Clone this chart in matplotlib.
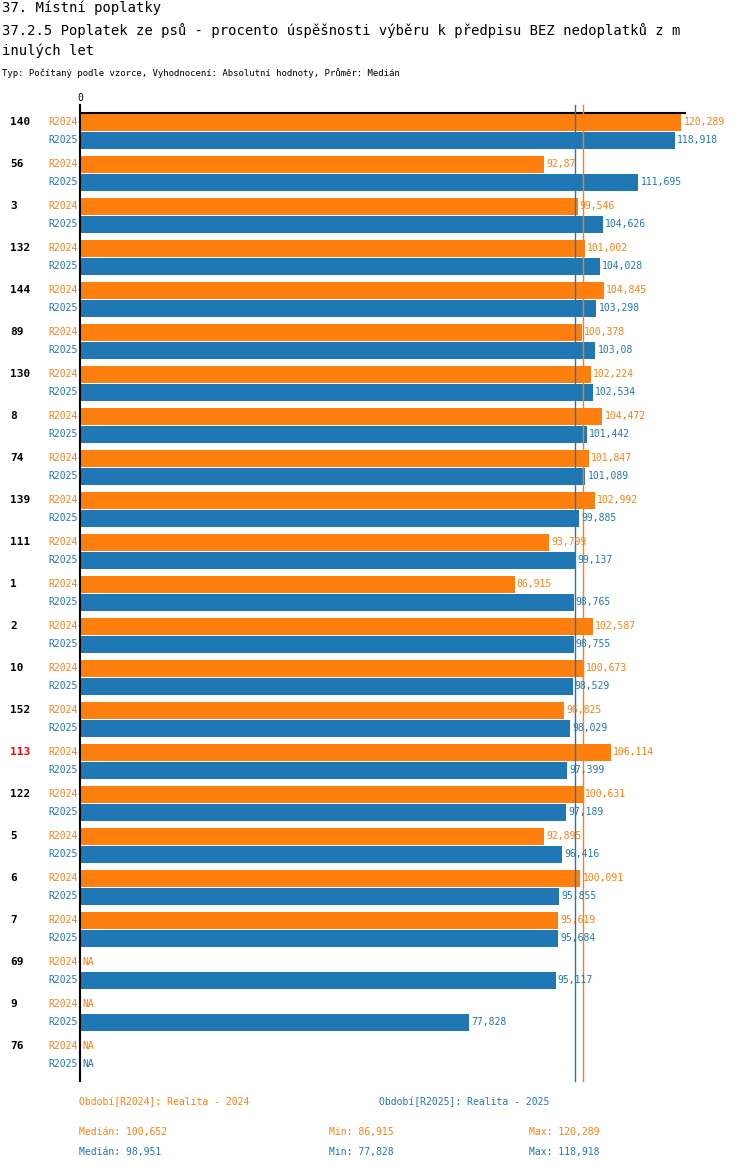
import numpy as np
import matplotlib.pyplot as plt

plt.rcParams['font.family'] = ['DejaVu Sans Mono']

cats = ['140', '56', '3', '132', '144', '89', '130', '8', '74', '139', '111', '1', '2',
        '10', '152', '113', '122', '5', '6', '7', '69', '9', '76']
r2024 = [120.289, 92.87, 99.546, 101.002, 104.845, 100.378, 102.224, 104.472, 101.847,
         102.992, 93.799, 86.915, 102.587, 100.673, 96.825, 106.114, 100.631, 92.895,
         100.091, 95.619, None, None, None]
r2025 = [118.918, 111.695, 104.626, 104.028, 103.298, 103.08, 102.534, 101.442, 101.089,
         99.885, 99.137, 98.765, 98.755, 98.529, 98.029, 97.399, 97.189, 96.416, 95.855,
         95.684, 95.117, 77.828, None]
highlight = '113'
med24, min24, max24 = 100.652, 86.915, 120.289
med25, min25, max25 = 98.951, 77.828, 118.918

ORANGE = '#ff7f0e'
BLUE = '#1f77b4'
W, H = 750, 1170

def fmt(v):
    return ('%g' % v).replace('.', ',')

fig = plt.figure(figsize=(W / 100, H / 100), dpi=100)
ax = fig.add_axes([80 / W, 1 - 1081 / H, 605 / W, 968 / H])
ax.set_xlim(0, 121)
ax.set_ylim(968, 0)
ax.axis('off')

pitch = 42
for i, c in enumerate(cats):
    y24 = i * pitch + 9
    y25 = i * pitch + 27
    ax.text(-70 / 5, y24, c, ha='left', va='center', fontsize=8, fontweight='bold',
            color='red' if c == highlight else 'black')
    for y, v, col, lab in ((y24, r2024[i], ORANGE, 'R2024'), (y25, r2025[i], BLUE, 'R2025')):
        ax.text(-0.5, y, lab, ha='right', va='center', fontsize=7, color=col)
        if v is None:
            ax.text(0.5, y, 'NA', ha='left', va='center', fontsize=7, color=col)
        else:
            ax.barh(y, v, height=17, color=col)
            ax.text(v + 0.4, y, fmt(v), ha='left', va='center', fontsize=7, color=col)

ax.plot([0, 121], [0, 0], color='black', lw=1.5, clip_on=False)
ax.plot([0, 0], [-8, 968], color='black', lw=1.5, clip_on=False)
ax.text(0, -10, '0', ha='center', va='bottom', fontsize=7)
ax.plot([med25, med25], [-8, 968], color=BLUE, lw=1, clip_on=False)
ax.plot([med24, med24], [-8, 968], color=ORANGE, lw=1, clip_on=False)

fig.text(2 / W, 1 - 8 / H, '37. Místní poplatky', fontsize=10, va='center')
fig.text(2 / W, 1 - 31 / H, '37.2.5 Poplatek ze psů - procento úspěšnosti výběru k předpisu BEZ nedoplatků z m',
         fontsize=10, va='center')
fig.text(2 / W, 1 - 51 / H, 'inulých let', fontsize=10, va='center')
fig.text(2 / W, 1 - 73 / H, 'Typ: Počítaný podle vzorce, Vyhodnocení: Absolutní hodnoty, Průměr: Medián',
         fontsize=6.5, va='center')

fig.text(79 / W, 1 - 1102 / H, 'Období[R2024]: Realita - 2024', fontsize=7, color=ORANGE, va='center')
fig.text(379 / W, 1 - 1102 / H, 'Období[R2025]: Realita - 2025', fontsize=7, color=BLUE, va='center')
for y, col, md, mn, mx in ((1132, ORANGE, med24, min24, max24), (1152, BLUE, med25, min25, max25)):
    fig.text(79 / W, 1 - y / H, 'Medián: ' + fmt(md), fontsize=7, color=col, va='center')
    fig.text(329 / W, 1 - y / H, 'Min: ' + fmt(mn), fontsize=7, color=col, va='center')
    fig.text(529 / W, 1 - y / H, 'Max: ' + fmt(mx), fontsize=7, color=col, va='center')

fig.savefig('out.png', dpi=100)
